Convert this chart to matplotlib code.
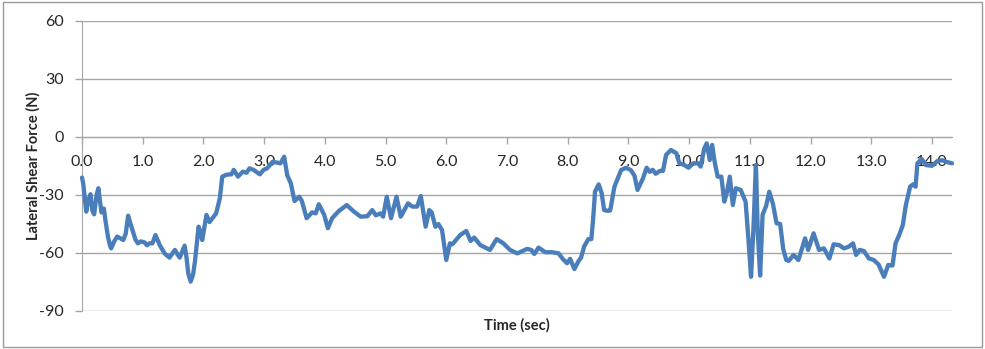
import matplotlib
matplotlib.use("Agg")
import matplotlib.pyplot as plt
from matplotlib.patches import Rectangle

time_s = [0.00, 0.02, 0.07, 0.10, 0.14, 0.17, 0.20, 0.24, 0.27, 0.32, 0.36, 0.39, 0.43, 0.46, 0.48,
          0.53, 0.58, 0.68, 0.72, 0.76, 0.80, 0.84, 0.88, 0.92, 0.97, 1.03, 1.07, 1.11, 1.16, 1.21,
          1.28, 1.36, 1.44, 1.53, 1.58, 1.61, 1.69, 1.72, 1.75, 1.79, 1.83, 1.86, 1.92, 1.95, 1.98,
          2.05, 2.10, 2.16, 2.21, 2.27, 2.31, 2.38, 2.46, 2.50, 2.57, 2.65, 2.71, 2.76, 2.83, 2.93,
          2.99, 3.05, 3.14, 3.27, 3.33, 3.38, 3.44, 3.50, 3.58, 3.62, 3.70, 3.79, 3.85, 3.90, 3.99,
          4.05, 4.12, 4.23, 4.36, 4.48, 4.59, 4.70, 4.78, 4.84, 4.92, 4.96, 5.02, 5.09, 5.18, 5.25,
          5.37, 5.44, 5.52, 5.58, 5.66, 5.72, 5.76, 5.82, 5.87, 5.93, 6.00, 6.06, 6.10, 6.23, 6.33,
          6.40, 6.46, 6.56, 6.72, 6.83, 6.94, 7.05, 7.17, 7.33, 7.40, 7.45, 7.52, 7.63, 7.74, 7.85,
          7.92, 7.99, 8.04, 8.11, 8.18, 8.22, 8.27, 8.34, 8.39, 8.42, 8.45, 8.51, 8.56, 8.60, 8.66,
          8.70, 8.77, 8.88, 8.96, 9.04, 9.10, 9.15, 9.24, 9.30, 9.35, 9.40, 9.45, 9.52, 9.57, 9.62,
          9.70, 9.79, 9.84, 9.92, 9.99, 10.07, 10.15, 10.19, 10.25, 10.29, 10.34, 10.38, 10.42, 10.47, 10.53,
          10.58, 10.62, 10.67, 10.72, 10.77, 10.85, 10.93, 10.98, 11.02, 11.06, 11.10, 11.13, 11.17, 11.21, 11.27,
          11.32, 11.38, 11.44, 11.50, 11.55, 11.60, 11.64, 11.72, 11.80, 11.86, 11.91, 11.96, 12.05, 12.14, 12.22,
          12.31, 12.38, 12.47, 12.55, 12.63, 12.70, 12.75, 12.81, 12.88, 12.96, 13.04, 13.12, 13.21, 13.28, 13.35,
          13.40, 13.46, 13.52, 13.57, 13.64, 13.69, 13.73, 13.76, 13.83, 13.90, 14.00, 14.09, 14.17, 14.25, 14.33]

shear_force = [-21, -24, -38.6, -33, -29.6, -38, -40, -30, -26.5, -39, -37, -44, -52, -55.9, -57.6,
               -54, -51.5, -53.3, -50, -40.7, -45, -49, -53, -55, -54, -54.5, -56, -55, -55, -50.7,
               -55.9, -60.2, -62.4, -58.4, -61, -62.4, -56.2, -62, -70.5, -74.8, -71, -64.5, -46.4, -49, -53.3,
               -40.3, -44, -41.5, -39.5, -31.7, -20.5, -19.5, -19.3, -17, -20.5, -17.9, -18.5, -16.2, -17.1, -19.3,
               -17, -16.2, -12.8, -13.6, -10.2, -19.7, -24, -33.1, -30.9, -33, -42, -39, -39.5, -34.8, -40.3,
               -47.2, -42, -38.3, -35.2, -38.6, -41.2, -41, -37.8, -40.5, -39.5, -41.2, -30.9, -42, -30.9, -41.2,
               -34.3, -36, -36, -30.5, -46.4, -37.8, -39, -46.4, -45, -48.1, -63.6, -55, -55.5, -50.7, -48.6,
               -53.8, -52, -55.9, -58.4, -52.8, -55, -58.4, -60.2, -57.9, -58.4, -60.5, -57.2, -59.6, -59.6, -60.2,
               -63.1, -65.3, -63, -68.3, -64.1, -62.4, -56.7, -52.8, -52.8, -42, -28.3, -24.5, -29.1, -37.8, -38.2,
               -38, -25.7, -17.1, -15.9, -17.1, -20, -27.4, -21.4, -15.9, -18, -17, -19, -17.5, -17.5, -9.3,
               -6.7, -8.4, -13.6, -14.5, -15.9, -13.6, -13.6, -15.3, -5.9, -3.3, -11.9, -4.1, -12.8, -20.5, -20.5,
               -33.4, -29, -20.5, -35.2, -26.5, -27.4, -33.4, -54.1, -72.3, -47, -14.5, -48.8, -71.7, -40.3, -35.5,
               -28.3, -34.5, -44.6, -45, -58, -63.6, -64.1, -61, -63.6, -57.6, -52.4, -58.4, -49.8, -58.4, -57.6,
               -62.8, -55.5, -55.9, -57.6, -56.7, -55, -61, -58.4, -59, -62.8, -63.6, -65.9, -72.3, -66.2, -66.5,
               -55, -50.7, -45.5, -35.2, -25.7, -24.5, -25.7, -13.6, -11.4, -14.5, -14.9, -12.4, -12, -13, -13.6]

x_ticks = [0, 1, 2, 3, 4, 5, 6, 7, 8, 9, 10, 11, 12, 13, 14]
x_tick_labels = ["0.0", "1.0", "2.0", "3.0", "4.0", "5.0", "6.0", "7.0", "8.0", "9.0",
                 "10.0", "11.0", "12.0", "13.0", "14.0"]
y_ticks = [-90, -60, -30, 0, 30, 60]
y_label = "Lateral Shear Force (N)"
x_label = "Time (sec)"

plt.rcParams['font.family'] = ['Lato', 'DejaVu Sans']

W, H = 985, 349
fig = plt.figure(figsize=(W / 100, H / 100), dpi=100)
fig.patch.set_facecolor('white')
fig.patches.append(Rectangle((3 / W, 2 / H), 979 / W, 345 / H, transform=fig.transFigure,
                             fill=False, edgecolor='#9a9a9a', linewidth=1.0))

ax = fig.add_axes([82 / W, 1 - 311 / H, (952 - 82) / W, (311 - 21) / H])
ax.set_axisbelow(True)
ax.plot(time_s, shear_force, color='#4A7EBB', linewidth=3.1, solid_joinstyle='round',
        solid_capstyle='round', zorder=3, clip_on=False)

ax.set_xlim(0, 14.33)
ax.set_ylim(-90, 60)
ax.set_yticks(y_ticks)
ax.set_yticklabels([str(v) for v in y_ticks])
ax.set_xticks(x_ticks)
ax.set_xticklabels(x_tick_labels)

grid_c = '#a6a6a6'
ax.yaxis.grid(True, color=grid_c, linewidth=1.0)
ax.xaxis.grid(False)
for s in ['top', 'right']:
    ax.spines[s].set_visible(False)
ax.spines['left'].set_color(grid_c)
ax.spines['bottom'].set_color(grid_c)
ax.spines['bottom'].set_position(('data', 0))

ax.tick_params(axis='y', direction='out', length=5, width=1, color=grid_c, pad=8,
               labelsize=11.5, labelcolor='#262626')
ax.tick_params(axis='x', direction='out', length=5, width=1, color=grid_c, pad=8,
               labelsize=11.5, labelcolor='#262626')

fig.text(33 / W, 1 - 166 / H, y_label, rotation=90, ha='center', va='center',
         fontsize=10.5, fontweight='bold', color='#262626')
fig.text(517 / W, 1 - 325 / H, x_label, ha='center', va='center',
         fontsize=10.5, fontweight='bold', color='#262626')

fig.savefig('out.png', dpi=100, facecolor='white')
